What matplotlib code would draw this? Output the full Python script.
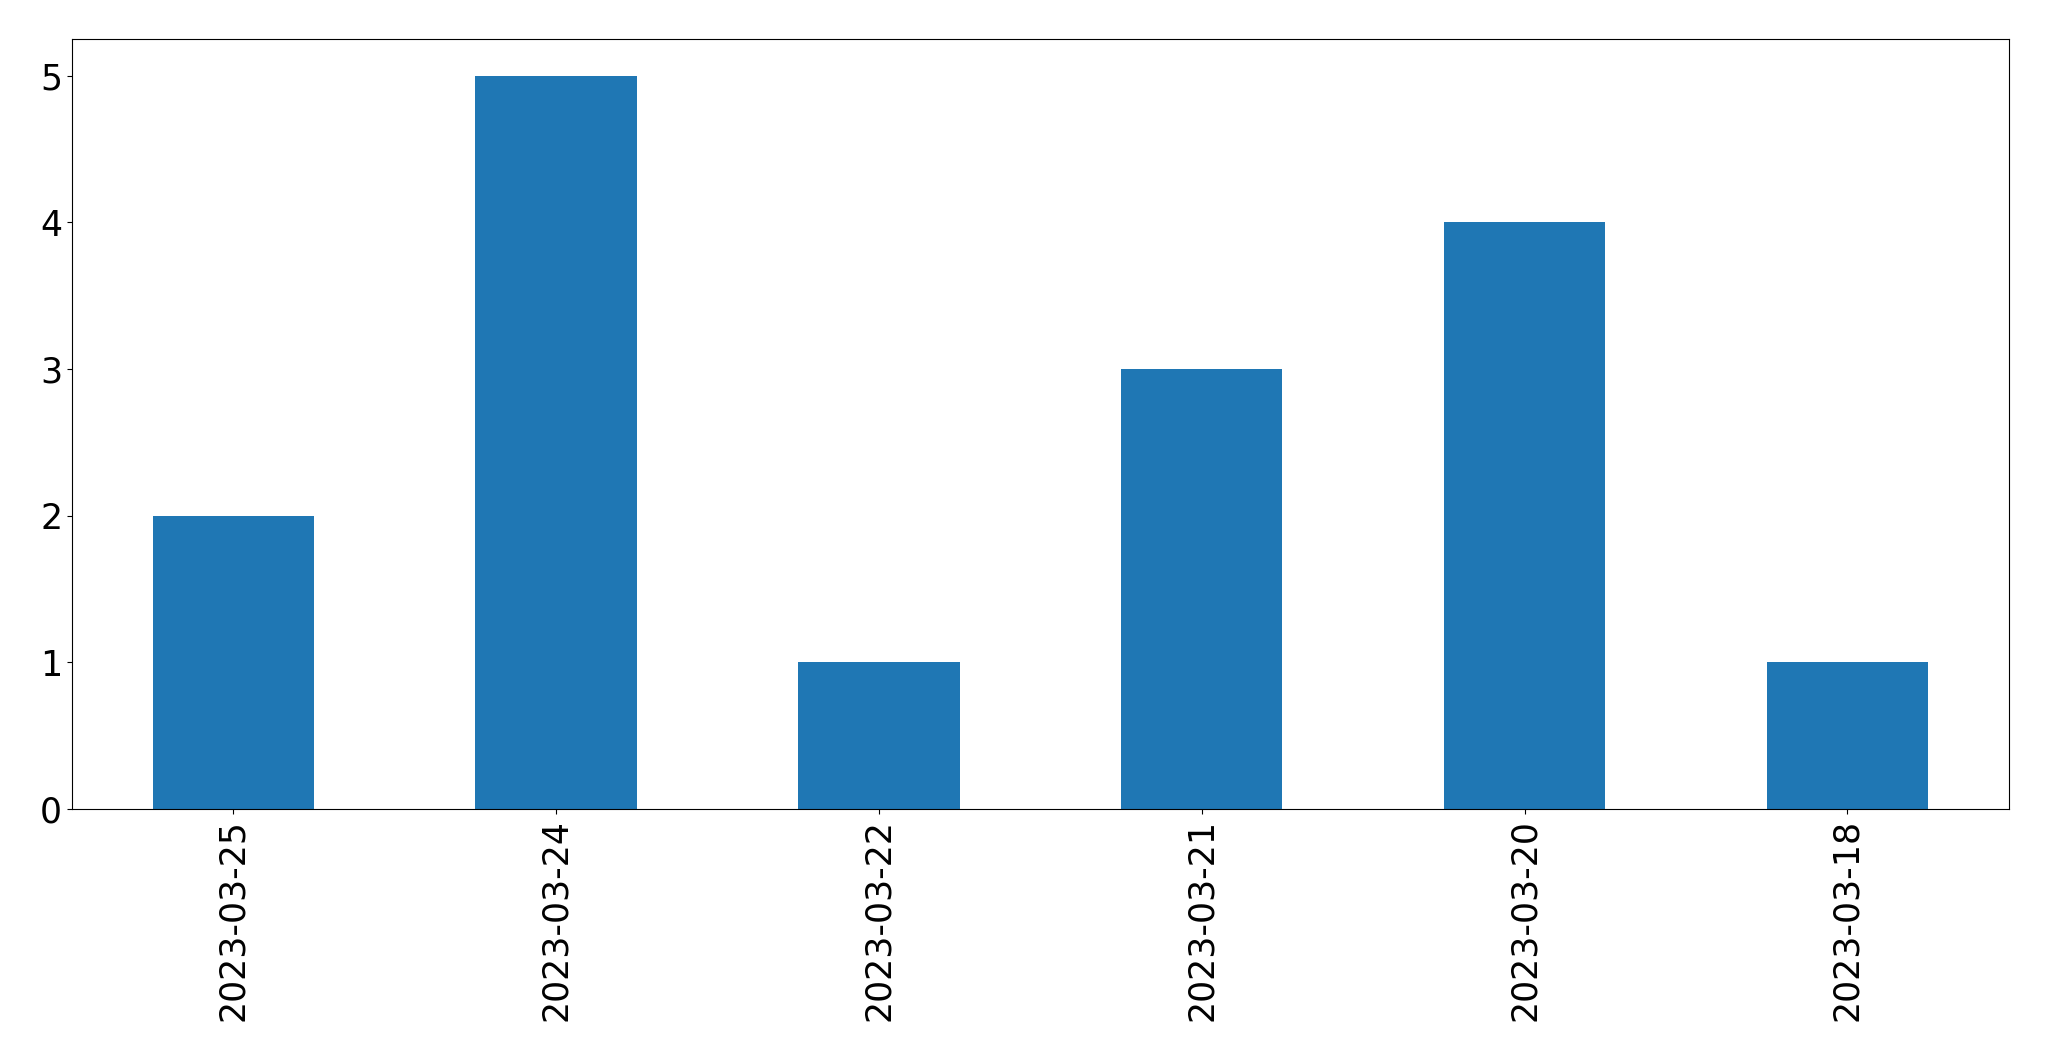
import matplotlib
matplotlib.use('Agg')
import matplotlib.pyplot as plt

dates = ['2023-03-25', '2023-03-24', '2023-03-22', '2023-03-21', '2023-03-20', '2023-03-18']
counts = [2, 5, 1, 3, 4, 1]

fig = plt.figure(figsize=(20.49, 10.61), dpi=100)
ax = fig.add_axes([0.0351, 0.2375, 0.9453, 0.7257])

ax.bar(range(len(dates)), counts, width=0.5, color='#1f77b4')
ax.set_xticks(range(len(dates)))
ax.set_xticklabels(dates, rotation=90)
ax.set_xlim(-0.5, len(dates) - 0.5)
ax.set_ylim(0, 5.25)
ax.tick_params(axis='both', labelsize=25)

fig.savefig('out.png', dpi=100)
